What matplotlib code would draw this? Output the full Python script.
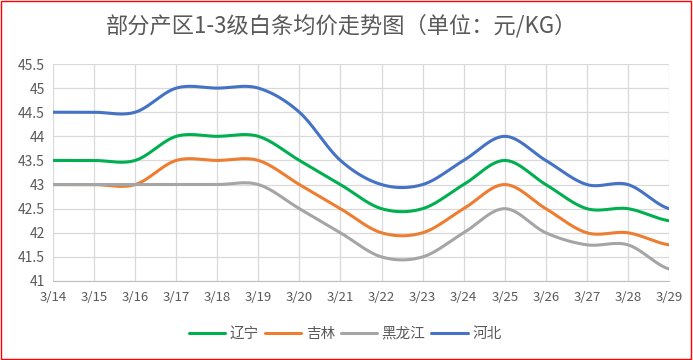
import numpy as np
import matplotlib
matplotlib.use("Agg")
import matplotlib.pyplot as plt
from matplotlib.patches import Rectangle

plt.rcParams['font.family'] = ['Noto Sans CJK SC', 'DejaVu Sans']

dates = ['3/14', '3/15', '3/16', '3/17', '3/18', '3/19', '3/20', '3/21',
         '3/22', '3/23', '3/24', '3/25', '3/26', '3/27', '3/28', '3/29']
liaoning = [43.5, 43.5, 43.5, 44, 44, 44, 43.5, 43, 42.5, 42.5, 43, 43.5, 43, 42.5, 42.5, 42.25]
jilin = [43, 43, 43, 43.5, 43.5, 43.5, 43, 42.5, 42, 42, 42.5, 43, 42.5, 42, 42, 41.75]
heilongjiang = [43, 43, 43, 43, 43, 43, 42.5, 42, 41.5, 41.5, 42, 42.5, 42, 41.75, 41.75, 41.25]
hebei = [44.5, 44.5, 44.5, 45, 45, 45, 44.5, 43.5, 43, 43, 43.5, 44, 43.5, 43, 43, 42.5]

series = [('辽宁', liaoning, '#00B050'),
          ('吉林', jilin, '#ED7D31'),
          ('黑龙江', heilongjiang, '#A5A5A5'),
          ('河北', hebei, '#4472C4')]


def smooth(y, n=30):
    # catmull-rom like Excel's smoothed line
    y = np.asarray(y, float)
    p = np.concatenate([[y[0]], y, [y[-1]]])
    xs, ys = [], []
    for i in range(len(y) - 1):
        p0, p1, p2, p3 = p[i], p[i + 1], p[i + 2], p[i + 3]
        t = np.linspace(0, 1, n, endpoint=False)
        v = 0.5 * ((2 * p1) + (-p0 + p2) * t + (2 * p0 - 5 * p1 + 4 * p2 - p3) * t ** 2
                   + (-p0 + 3 * p1 - 3 * p2 + p3) * t ** 3)
        xs.append(i + t)
        ys.append(v)
    xs.append([len(y) - 1])
    ys.append([y[-1]])
    return np.concatenate(xs), np.concatenate(ys)


fig = plt.figure(figsize=(6.93, 3.60), dpi=100)
ax = fig.add_axes([53 / 693, 1 - 281 / 360, (669 - 53) / 693, (281 - 64) / 360])

x = np.arange(len(dates))
for name, vals, col in series:
    sx, sy = smooth(vals)
    ax.plot(sx, sy, color=col, lw=2.2, label=name, solid_capstyle='round')

ax.set_xlim(0, len(dates) - 1)
ax.set_ylim(41, 45.5)
ax.set_xticks(x)
ax.set_xticklabels(dates)
ax.set_yticks(np.arange(41, 45.51, 0.5))
ax.set_yticklabels(['41', '41.5', '42', '42.5', '43', '43.5', '44', '44.5', '45', '45.5'])
ax.grid(True, color='#D9D9D9', lw=0.9)
ax.set_axisbelow(True)
for s in ['top', 'right', 'left']:
    ax.spines[s].set_visible(False)
ax.spines['bottom'].set_color('#BFBFBF')
ax.tick_params(length=0, labelsize=9.5, colors='#595959', pad=7)
ax.tick_params(axis='y', labelsize=10, pad=6)

fig.text(0.493, 1 - 26 / 360, '部分产区1-3级白条均价走势图（单位：元/KG）',
         ha='center', va='center', fontsize=16, color='#595959')

fig.legend(loc='center', bbox_to_anchor=(0.498, 1 - 334 / 360), ncol=4, frameon=False,
           fontsize=10.5, labelcolor='#595959', handlelength=2.5, columnspacing=0.4,
           handletextpad=0.3)

fig.patches.append(Rectangle((1 / 693, 1 / 360), 690 / 693, 358 / 360, transform=fig.transFigure,
                             fill=False, edgecolor='#FF0000', lw=1))

fig.savefig('out.png', dpi=100)
